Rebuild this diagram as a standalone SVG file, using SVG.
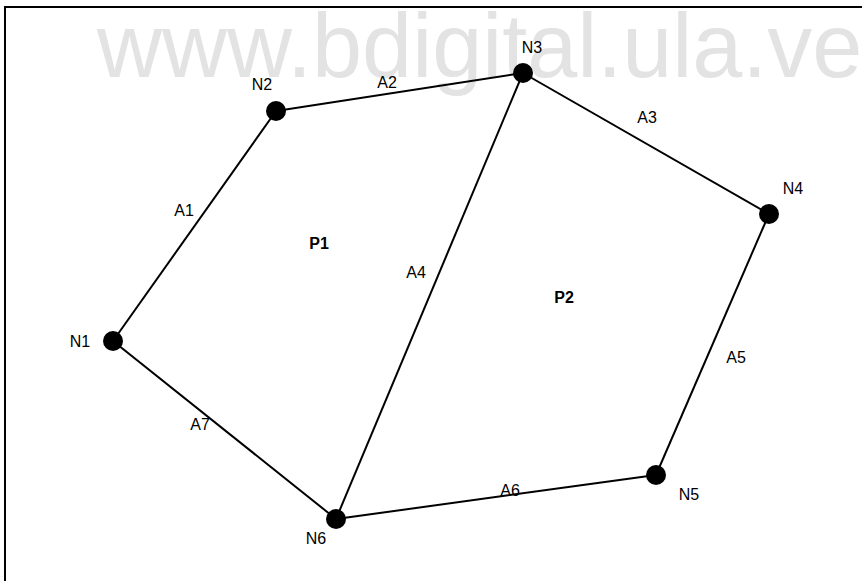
<svg xmlns="http://www.w3.org/2000/svg" width="862" height="581" viewBox="0 0 862 581">
<style>
.lbl{font-family:"Liberation Sans",Arial,sans-serif;font-size:16px;fill:#000;text-anchor:middle}
.poly{font-family:"Liberation Sans",Arial,sans-serif;font-size:16px;font-weight:bold;fill:#000;text-anchor:middle}
.edge{stroke:#000;stroke-width:2;fill:none}
.node{fill:#000}
</style>
<rect x="0" y="0" width="862" height="581" fill="#fff"/>
<text x="97" y="77" font-family="'Liberation Sans',Arial,sans-serif" font-size="90" fill="#e3e3e3">www.bdigital.ula.ve</text>
<rect x="5" y="7" width="880" height="600" fill="none" stroke="#000" stroke-width="2"/>
<g id="connectors">
<line class="edge" x1="113" y1="341" x2="276" y2="111"/>
<line class="edge" x1="276" y1="111" x2="523" y2="73"/>
<line class="edge" x1="523" y1="73" x2="769" y2="214"/>
<line class="edge" x1="523" y1="73" x2="336" y2="519"/>
<line class="edge" x1="769" y1="214" x2="656" y2="475"/>
<line class="edge" x1="656" y1="475" x2="336" y2="519"/>
<line class="edge" x1="113" y1="341" x2="336" y2="519"/>
<text class="lbl" x="184" y="216">A1</text>
<text class="lbl" x="387" y="88">A2</text>
<text class="lbl" x="647" y="123">A3</text>
<text class="lbl" x="416" y="278">A4</text>
<text class="lbl" x="736" y="363">A5</text>
<text class="lbl" x="510" y="496">A6</text>
<text class="lbl" x="200" y="430">A7</text>
</g>
<g id="N1"><circle class="node" cx="113" cy="341" r="10"/><text class="lbl" x="80" y="347">N1</text></g>
<g id="N2"><circle class="node" cx="276" cy="111" r="10"/><text class="lbl" x="262" y="90">N2</text></g>
<g id="N3"><circle class="node" cx="523" cy="73" r="10"/><text class="lbl" x="532" y="53">N3</text></g>
<g id="N4"><circle class="node" cx="769" cy="214" r="10"/><text class="lbl" x="793" y="194">N4</text></g>
<g id="N5"><circle class="node" cx="656" cy="475" r="10"/><text class="lbl" x="689" y="500">N5</text></g>
<g id="N6"><circle class="node" cx="336" cy="519" r="10"/><text class="lbl" x="316" y="544">N6</text></g>
<g id="P1"><text class="poly" x="319" y="249">P1</text></g>
<g id="P2"><text class="poly" x="564" y="303">P2</text></g>
</svg>
